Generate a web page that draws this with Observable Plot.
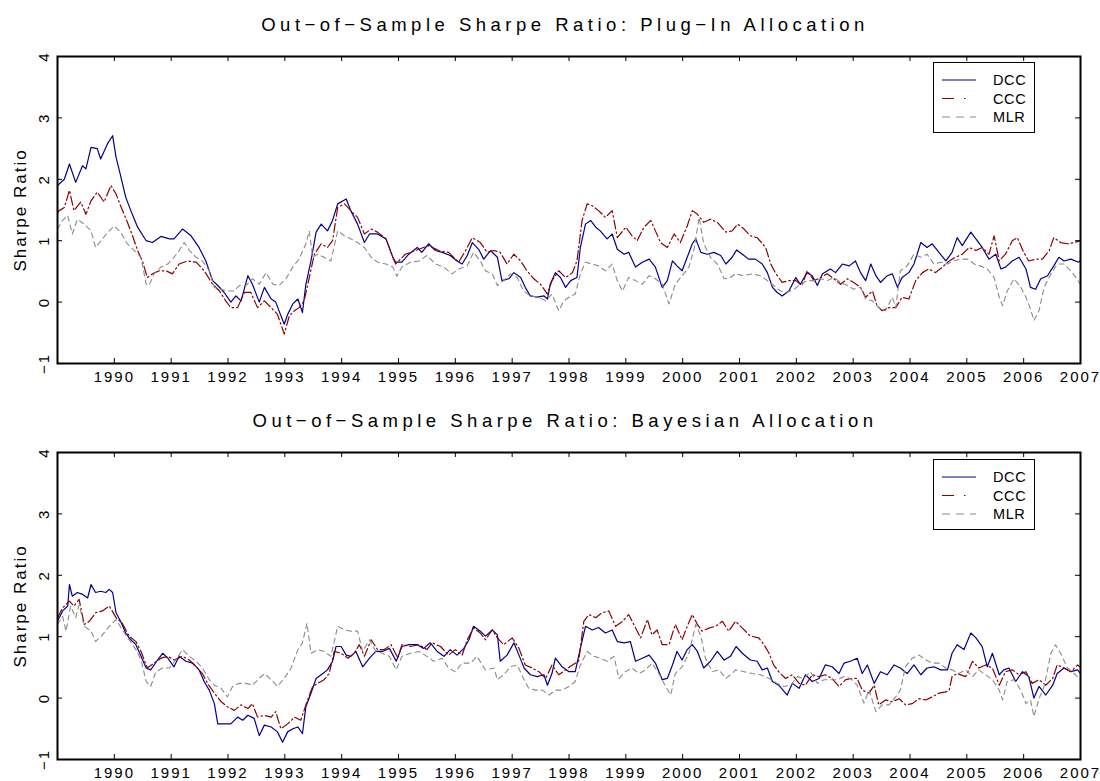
<!DOCTYPE html>
<html>
<head>
<meta charset="utf-8">
<script src="https://cdn.jsdelivr.net/npm/d3@7"></script>
<script src="https://cdn.jsdelivr.net/npm/@observablehq/plot@0.6"></script>
<style>
  body { margin: 0; background: #fff; }
  #root { position: relative; width: 1100px; height: 781px; font-family: "Liberation Sans", Arial, sans-serif; color: #000; overflow: hidden; }
  .title { position: absolute; left: 0; width: 1130px; text-align: center; font-size: 18.5px; line-height: 20px; letter-spacing: 4.5px; white-space: nowrap; }
  .panel { position: absolute; left: 0; }
  .panel svg text { letter-spacing: 2px; }
  .legend { position: absolute; }
</style>
</head>
<body>
<div id="root">
  <div class="title" id="t1" style="top:15px"></div>
  <div class="panel" id="p1" style="top:40px"></div>
  <div class="title" id="t2" style="top:411px"></div>
  <div class="panel" id="p2" style="top:436px"></div>
</div>
<script>
// ---------- text ----------
const titles = ["Out\u2212of\u2212Sample Sharpe Ratio: Plug\u2212In Allocation",
                "Out\u2212of\u2212Sample Sharpe Ratio: Bayesian Allocation"];
const yLabel = "Sharpe Ratio";
const seriesNames = ["DCC", "CCC", "MLR"];
const yearTicks = [1990,1991,1992,1993,1994,1995,1996,1997,1998,1999,2000,2001,2002,2003,2004,2005,2006,2007];
const yTicks = [-1, 0, 1, 2, 3, 4];

// ---------- data: [decimal year, Sharpe ratio] ----------
const plugDCC = [
[1989.00,1.90],[1989.12,2.00],[1989.21,2.25],[1989.32,1.95],[1989.44,2.22],[1989.50,2.17],[1989.59,2.52],[1989.70,2.50],[1989.76,2.33],[1989.88,2.58],[1989.97,2.71],[1990.03,2.36],[1990.11,2.06],[1990.20,1.71],[1990.29,1.49],[1990.41,1.22],[1990.56,1.00],[1990.67,0.97],[1990.82,1.07],[1990.97,1.03],[1991.05,1.03],[1991.20,1.19],[1991.35,1.08],[1991.49,0.89],[1991.61,0.67],[1991.73,0.35],[1991.82,0.27],[1991.93,0.16],[1992.05,0.00],[1992.14,0.10],[1992.23,0.02],[1992.35,0.43],[1992.43,0.29],[1992.55,0.00],[1992.64,0.24],[1992.76,0.05],[1992.84,0.00],[1992.93,-0.22],[1992.99,-0.36],[1993.05,-0.20],[1993.14,-0.03],[1993.23,0.05],[1993.31,-0.17],[1993.37,0.29],[1993.46,0.67],[1993.55,1.14],[1993.64,1.27],[1993.75,1.16],[1993.84,1.33],[1993.93,1.60],[1994.08,1.68],[1994.16,1.49],[1994.28,1.27],[1994.40,0.97],[1994.49,1.11],[1994.63,1.11],[1994.78,1.03],[1994.90,0.73],[1994.95,0.65],
[1995.06,0.65],[1995.18,0.78],[1995.33,0.89],[1995.41,0.81],[1995.53,0.95],[1995.65,0.84],[1995.77,0.81],[1995.91,0.76],[1996.03,0.67],[1996.12,0.62],[1996.21,0.76],[1996.30,0.97],[1996.41,0.86],[1996.50,0.70],[1996.62,0.84],[1996.74,0.73],[1996.82,0.35],[1996.94,0.38],[1997.03,0.48],[1997.15,0.40],[1997.23,0.24],[1997.32,0.10],[1997.44,0.08],[1997.56,0.10],[1997.62,0.05],[1997.67,0.29],[1997.76,0.48],[1997.85,0.40],[1997.94,0.24],[1998.03,0.35],[1998.14,0.40],[1998.20,0.89],[1998.29,1.27],[1998.38,1.33],[1998.47,1.22],[1998.55,1.16],[1998.67,1.03],[1998.76,1.11],[1998.85,0.86],[1998.97,0.78],[1999.05,0.81],[1999.17,0.57],[1999.29,0.65],[1999.41,0.70],[1999.52,0.57],[1999.64,0.24],[1999.73,0.35],[1999.82,0.67],[1999.90,0.59],[1999.99,0.51],[2000.08,0.73],[2000.17,0.95],[2000.23,1.03],[2000.32,0.81],[2000.43,0.78],[2000.55,0.81],[2000.67,0.76],[2000.76,0.62],[2000.87,0.73],[2000.95,0.85],
[2001.05,0.78],[2001.16,0.70],[2001.28,0.70],[2001.40,0.62],[2001.49,0.48],[2001.58,0.24],[2001.66,0.16],[2001.75,0.10],[2001.87,0.18],[2001.99,0.40],[2002.07,0.29],[2002.19,0.48],[2002.28,0.43],[2002.37,0.27],[2002.46,0.46],[2002.60,0.54],[2002.69,0.48],[2002.81,0.62],[2002.93,0.59],[2003.04,0.67],[2003.13,0.48],[2003.22,0.35],[2003.31,0.62],[2003.40,0.43],[2003.48,0.32],[2003.60,0.43],[2003.69,0.46],[2003.78,0.24],[2003.86,0.40],[2003.98,0.48],[2004.07,0.62],[2004.19,0.97],[2004.30,0.89],[2004.39,0.95],[2004.51,0.81],[2004.63,0.67],[2004.74,0.81],[2004.83,1.05],[2004.92,0.92],[2005.07,1.14],[2005.16,1.03],[2005.27,0.89],[2005.39,0.70],[2005.51,0.78],[2005.60,0.54],[2005.68,0.57],[2005.80,0.67],[2005.92,0.73],[2006.04,0.54],[2006.12,0.24],[2006.21,0.21],[2006.30,0.38],[2006.42,0.43],[2006.53,0.59],[2006.62,0.73],[2006.71,0.67],[2006.83,0.70],[2006.97,0.65],[2007.00,0.68]
];
const plugCCC = [
[1989.00,1.45],[1989.03,1.49],[1989.12,1.54],[1989.21,1.82],[1989.29,1.49],[1989.41,1.63],[1989.50,1.43],[1989.59,1.65],[1989.70,1.79],[1989.82,1.63],[1989.94,1.90],[1990.03,1.76],[1990.11,1.57],[1990.23,1.30],[1990.32,1.08],[1990.41,0.84],[1990.50,0.65],[1990.58,0.40],[1990.67,0.46],[1990.79,0.51],[1990.91,0.51],[1991.02,0.46],[1991.14,0.62],[1991.29,0.67],[1991.44,0.65],[1991.58,0.51],[1991.73,0.29],[1991.85,0.18],[1991.96,0.02],[1992.05,-0.09],[1992.17,-0.09],[1992.29,0.16],[1992.40,0.16],[1992.52,-0.09],[1992.64,0.02],[1992.76,-0.09],[1992.87,-0.20],[1992.99,-0.52],[1993.08,-0.22],[1993.17,-0.14],[1993.25,-0.09],[1993.34,0.02],[1993.43,0.40],[1993.52,0.78],[1993.64,0.95],[1993.75,0.89],[1993.84,1.00],[1993.93,1.54],[1994.05,1.60],[1994.16,1.49],[1994.28,1.38],[1994.40,1.11],[1994.52,1.19],[1994.63,1.14],[1994.78,1.03],[1994.90,0.73],[1994.95,0.62],
[1995.12,0.78],[1995.30,0.84],[1995.53,0.92],[1995.71,0.84],[1995.88,0.81],[1996.06,0.65],[1996.18,0.84],[1996.30,1.05],[1996.44,0.97],[1996.56,0.81],[1996.68,0.84],[1996.79,0.81],[1996.91,0.62],[1997.03,0.78],[1997.15,0.67],[1997.26,0.51],[1997.38,0.38],[1997.50,0.29],[1997.62,0.13],[1997.70,0.35],[1997.82,0.51],[1997.94,0.40],[1998.06,0.48],[1998.14,0.67],[1998.23,1.33],[1998.32,1.60],[1998.41,1.57],[1998.52,1.49],[1998.64,1.38],[1998.76,1.49],[1998.85,1.05],[1999.00,1.22],[1999.11,1.08],[1999.20,1.00],[1999.32,1.22],[1999.44,1.33],[1999.52,1.16],[1999.61,0.97],[1999.73,0.89],[1999.85,1.11],[1999.96,0.97],[2000.08,1.24],[2000.17,1.49],[2000.26,1.43],[2000.37,1.30],[2000.49,1.35],[2000.61,1.30],[2000.76,1.14],[2000.87,1.16],[2000.97,1.27],
[2001.08,1.19],[2001.19,1.08],[2001.31,1.05],[2001.46,0.89],[2001.55,0.62],[2001.63,0.48],[2001.75,0.32],[2001.87,0.35],[2001.99,0.35],[2002.10,0.27],[2002.19,0.51],[2002.31,0.35],[2002.43,0.40],[2002.54,0.46],[2002.66,0.38],[2002.78,0.29],[2002.90,0.38],[2003.01,0.32],[2003.13,0.24],[2003.22,0.08],[2003.34,0.18],[2003.42,-0.06],[2003.51,-0.14],[2003.63,-0.09],[2003.75,-0.09],[2003.86,0.08],[2003.98,0.05],[2004.10,0.35],[2004.22,0.48],[2004.33,0.54],[2004.45,0.48],[2004.57,0.57],[2004.69,0.67],[2004.80,0.73],[2004.92,0.78],[2005.04,0.89],[2005.16,0.84],[2005.27,0.89],[2005.39,0.78],[2005.48,1.08],[2005.57,0.67],[2005.68,0.78],[2005.80,1.00],[2005.89,1.05],[2006.00,0.81],[2006.09,0.67],[2006.21,0.70],[2006.33,0.70],[2006.45,0.84],[2006.53,1.05],[2006.65,0.97],[2006.77,0.95],[2006.89,0.97],[2007.00,1.00]
];
const plugMLR = [
[1989.00,1.19],[1989.09,1.33],[1989.18,1.41],[1989.26,1.11],[1989.35,1.35],[1989.47,1.27],[1989.59,1.16],[1989.67,0.89],[1989.79,1.03],[1989.91,1.16],[1990.00,1.24],[1990.11,1.14],[1990.23,0.95],[1990.35,0.84],[1990.47,0.73],[1990.56,0.29],[1990.61,0.27],[1990.70,0.46],[1990.82,0.57],[1990.94,0.62],[1991.05,0.73],[1991.14,0.84],[1991.23,0.97],[1991.32,0.84],[1991.44,0.73],[1991.55,0.67],[1991.67,0.51],[1991.76,0.24],[1991.88,0.21],[1991.99,0.18],[1992.11,0.18],[1992.20,0.27],[1992.32,0.27],[1992.43,0.38],[1992.55,0.29],[1992.67,0.48],[1992.79,0.29],[1992.90,0.27],[1993.02,0.38],[1993.14,0.57],[1993.25,0.70],[1993.37,0.95],[1993.43,1.16],[1993.49,0.73],[1993.58,0.78],[1993.69,0.73],[1993.81,0.67],[1993.93,1.16],[1994.05,1.08],[1994.16,1.03],[1994.28,0.97],[1994.40,0.89],[1994.52,0.73],[1994.63,0.65],[1994.78,0.62],[1994.90,0.57],[1994.97,0.42],
[1995.06,0.57],[1995.21,0.65],[1995.36,0.67],[1995.50,0.76],[1995.65,0.62],[1995.80,0.57],[1995.94,0.46],[1996.06,0.54],[1996.21,0.59],[1996.32,0.81],[1996.44,0.67],[1996.53,0.51],[1996.65,0.46],[1996.74,0.27],[1996.85,0.35],[1996.97,0.46],[1997.09,0.40],[1997.20,0.18],[1997.32,0.10],[1997.47,0.08],[1997.59,0.02],[1997.70,0.13],[1997.82,-0.14],[1997.91,0.02],[1998.00,0.08],[1998.11,0.13],[1998.20,0.46],[1998.29,0.65],[1998.41,0.62],[1998.52,0.59],[1998.64,0.51],[1998.76,0.62],[1998.85,0.35],[1998.94,0.18],[1999.05,0.40],[1999.17,0.35],[1999.29,0.29],[1999.41,0.43],[1999.52,0.38],[1999.64,0.29],[1999.76,-0.03],[1999.87,0.29],[1999.99,0.43],[2000.11,0.57],[2000.20,0.86],[2000.29,1.38],[2000.37,0.95],[2000.49,0.73],[2000.61,0.62],[2000.73,0.38],[2000.84,0.40],
[2000.93,0.46],[2001.08,0.43],[2001.22,0.46],[2001.37,0.43],[2001.49,0.35],[2001.60,0.27],[2001.72,0.18],[2001.84,0.16],[2001.96,0.21],[2002.07,0.29],[2002.19,0.35],[2002.31,0.35],[2002.43,0.38],[2002.54,0.35],[2002.66,0.40],[2002.78,0.32],[2002.90,0.27],[2003.01,0.21],[2003.13,0.24],[2003.22,0.05],[2003.34,0.02],[2003.45,-0.09],[2003.57,-0.14],[2003.69,0.08],[2003.75,-0.09],[2003.83,0.51],[2003.95,0.59],[2004.07,0.78],[2004.19,0.73],[2004.30,0.78],[2004.42,0.62],[2004.54,0.65],[2004.66,0.62],[2004.77,0.67],[2004.89,0.70],[2005.01,0.70],[2005.13,0.62],[2005.24,0.59],[2005.36,0.54],[2005.48,0.40],[2005.57,0.08],[2005.63,-0.06],[2005.71,0.18],[2005.83,0.38],[2005.95,0.24],[2006.04,0.08],[2006.12,-0.11],[2006.18,-0.30],[2006.27,-0.14],[2006.36,0.24],[2006.48,0.46],[2006.59,0.62],[2006.71,0.62],[2006.83,0.51],[2006.92,0.40],[2007.00,0.29]
];

const bayesDCC = [
[1989.00,1.25],[1989.09,1.42],[1989.18,1.50],[1989.21,1.85],[1989.26,1.66],[1989.35,1.72],[1989.44,1.69],[1989.53,1.63],[1989.59,1.85],[1989.67,1.72],[1989.76,1.74],[1989.85,1.72],[1989.91,1.77],[1989.97,1.72],[1990.03,1.39],[1990.11,1.25],[1990.20,1.06],[1990.29,0.95],[1990.38,0.87],[1990.47,0.68],[1990.56,0.49],[1990.64,0.46],[1990.76,0.62],[1990.85,0.73],[1990.94,0.65],[1991.05,0.51],[1991.14,0.68],[1991.26,0.60],[1991.38,0.57],[1991.49,0.46],[1991.58,0.27],[1991.67,0.13],[1991.76,-0.09],[1991.82,-0.42],[1991.93,-0.42],[1992.05,-0.42],[1992.17,-0.31],[1992.26,-0.36],[1992.35,-0.28],[1992.46,-0.33],[1992.55,-0.61],[1992.64,-0.44],[1992.76,-0.47],[1992.87,-0.55],[1992.96,-0.72],[1993.05,-0.55],[1993.14,-0.50],[1993.23,-0.47],[1993.31,-0.58],[1993.37,-0.14],[1993.46,0.08],[1993.55,0.32],[1993.67,0.40],[1993.75,0.46],[1993.84,0.60],[1993.90,0.84],[1993.99,0.84],[1994.08,0.70],[1994.16,0.68],[1994.25,0.76],[1994.37,0.51],[1994.49,0.65],[1994.60,0.76],[1994.72,0.76],[1994.84,0.81],[1994.96,0.60],
[1995.06,0.84],[1995.18,0.87],[1995.33,0.87],[1995.44,0.81],[1995.56,0.90],[1995.68,0.76],[1995.80,0.68],[1995.91,0.79],[1996.03,0.70],[1996.15,0.81],[1996.24,0.95],[1996.32,1.17],[1996.44,1.09],[1996.53,1.01],[1996.65,1.11],[1996.74,1.03],[1996.79,0.60],[1996.91,0.70],[1997.03,0.90],[1997.12,0.70],[1997.21,0.49],[1997.32,0.38],[1997.44,0.35],[1997.56,0.38],[1997.62,0.21],[1997.70,0.40],[1997.76,0.65],[1997.88,0.51],[1998.00,0.43],[1998.11,0.43],[1998.20,0.81],[1998.29,1.17],[1998.41,1.11],[1998.52,1.15],[1998.64,1.06],[1998.76,1.11],[1998.85,0.92],[1998.97,0.90],[1999.08,0.92],[1999.17,0.60],[1999.29,0.65],[1999.41,0.70],[1999.52,0.57],[1999.64,0.30],[1999.73,0.32],[1999.82,0.54],[1999.90,0.76],[1999.99,0.62],[2000.08,0.79],[2000.17,0.87],[2000.26,0.76],[2000.37,0.49],[2000.49,0.60],[2000.61,0.76],[2000.73,0.62],[2000.84,0.68],[2000.94,0.84],
[2001.05,0.73],[2001.19,0.62],[2001.31,0.60],[2001.40,0.46],[2001.49,0.49],[2001.58,0.27],[2001.69,0.21],[2001.84,0.05],[2001.93,0.24],[2002.05,0.16],[2002.16,0.38],[2002.28,0.27],[2002.40,0.32],[2002.51,0.54],[2002.63,0.51],[2002.75,0.40],[2002.84,0.57],[2002.95,0.60],[2003.07,0.65],[2003.16,0.40],[2003.25,0.54],[2003.37,0.24],[2003.48,0.43],[2003.60,0.38],[2003.72,0.54],[2003.83,0.49],[2003.95,0.40],[2004.07,0.54],[2004.19,0.38],[2004.30,0.49],[2004.42,0.51],[2004.54,0.46],[2004.66,0.46],[2004.74,0.73],[2004.83,0.87],[2004.95,0.79],[2005.07,1.06],[2005.16,0.98],[2005.27,0.84],[2005.36,0.51],[2005.45,0.73],[2005.57,0.38],[2005.65,0.46],[2005.74,0.49],[2005.86,0.27],[2005.98,0.43],[2006.09,0.35],[2006.18,0.00],[2006.27,0.19],[2006.39,0.05],[2006.51,0.21],[2006.59,0.40],[2006.71,0.49],[2006.83,0.43],[2006.95,0.46],[2007.00,0.40]
];
const bayesCCC = [
[1989.00,1.31],[1989.09,1.47],[1989.21,1.58],[1989.29,1.50],[1989.38,1.61],[1989.47,1.20],[1989.56,1.25],[1989.67,1.39],[1989.79,1.42],[1989.91,1.50],[1990.03,1.31],[1990.14,1.22],[1990.26,1.01],[1990.38,0.92],[1990.47,0.76],[1990.58,0.49],[1990.70,0.57],[1990.82,0.65],[1990.94,0.68],[1991.05,0.62],[1991.20,0.68],[1991.32,0.62],[1991.44,0.51],[1991.55,0.40],[1991.64,0.24],[1991.76,0.08],[1991.88,-0.06],[1991.99,-0.14],[1992.11,-0.20],[1992.23,-0.11],[1992.35,-0.17],[1992.43,-0.09],[1992.52,-0.31],[1992.64,-0.28],[1992.76,-0.31],[1992.84,-0.22],[1992.93,-0.50],[1993.05,-0.42],[1993.17,-0.31],[1993.28,-0.36],[1993.40,-0.03],[1993.49,0.19],[1993.58,0.24],[1993.69,0.30],[1993.78,0.40],[1993.87,0.76],[1993.99,0.73],[1994.11,0.65],[1994.22,0.73],[1994.31,0.87],[1994.40,0.68],[1994.52,0.95],[1994.63,0.79],[1994.75,0.79],[1994.87,0.87],[1994.99,0.65],
[1995.06,0.87],[1995.21,0.84],[1995.36,0.87],[1995.50,0.79],[1995.59,0.90],[1995.74,0.84],[1995.88,0.70],[1996.00,0.79],[1996.12,0.70],[1996.21,0.95],[1996.32,1.14],[1996.44,1.06],[1996.53,0.95],[1996.65,1.11],[1996.74,0.98],[1996.85,0.87],[1997.00,0.98],[1997.12,0.81],[1997.23,0.54],[1997.35,0.49],[1997.47,0.43],[1997.59,0.32],[1997.70,0.54],[1997.82,0.38],[1997.94,0.46],[1998.06,0.54],[1998.17,0.60],[1998.26,1.25],[1998.35,1.36],[1998.47,1.31],[1998.58,1.39],[1998.70,1.42],[1998.82,1.17],[1998.94,1.25],[1999.05,1.36],[1999.14,1.20],[1999.26,0.98],[1999.38,1.28],[1999.46,1.03],[1999.55,1.11],[1999.64,0.87],[1999.76,0.87],[1999.87,1.20],[1999.99,0.95],[2000.08,1.17],[2000.17,1.36],[2000.26,1.20],[2000.34,1.09],[2000.46,1.14],[2000.58,1.17],[2000.70,1.25],[2000.81,1.09],[2000.93,1.25],
[2001.05,1.14],[2001.19,1.01],[2001.34,0.98],[2001.43,0.87],[2001.52,0.73],[2001.60,0.54],[2001.69,0.43],[2001.81,0.32],[2001.93,0.38],[2002.05,0.24],[2002.16,0.21],[2002.28,0.38],[2002.40,0.35],[2002.51,0.38],[2002.63,0.32],[2002.75,0.19],[2002.87,0.30],[2002.98,0.32],[2003.07,0.32],[2003.16,0.13],[2003.28,0.08],[2003.37,0.21],[2003.45,-0.11],[2003.57,-0.03],[2003.69,-0.06],[2003.81,-0.01],[2003.92,-0.11],[2004.04,-0.09],[2004.16,-0.01],[2004.28,-0.03],[2004.39,0.02],[2004.51,0.08],[2004.63,0.10],[2004.69,0.13],[2004.74,0.35],[2004.83,0.40],[2004.98,0.35],[2005.10,0.60],[2005.21,0.49],[2005.33,0.54],[2005.45,0.49],[2005.57,0.21],[2005.68,0.43],[2005.80,0.46],[2005.92,0.38],[2006.04,0.43],[2006.15,0.24],[2006.27,0.30],[2006.39,0.21],[2006.51,0.32],[2006.59,0.54],[2006.71,0.49],[2006.83,0.43],[2006.95,0.54],[2007.00,0.50]
];
const bayesMLR = [
[1989.00,1.20],[1989.09,1.33],[1989.15,1.09],[1989.23,1.50],[1989.32,1.31],[1989.38,1.52],[1989.47,1.17],[1989.59,1.09],[1989.67,0.92],[1989.79,1.03],[1989.91,1.17],[1990.03,1.28],[1990.14,1.11],[1990.26,0.95],[1990.38,0.79],[1990.47,0.62],[1990.56,0.27],[1990.64,0.19],[1990.73,0.43],[1990.85,0.49],[1990.97,0.49],[1991.08,0.62],[1991.20,0.79],[1991.32,0.68],[1991.44,0.60],[1991.55,0.49],[1991.67,0.30],[1991.76,0.21],[1991.88,0.16],[1991.99,0.02],[1992.08,0.19],[1992.20,0.24],[1992.32,0.24],[1992.43,0.21],[1992.55,0.32],[1992.64,0.40],[1992.76,0.30],[1992.87,0.19],[1992.99,0.32],[1993.11,0.49],[1993.23,0.79],[1993.31,0.90],[1993.39,1.22],[1993.46,0.73],[1993.58,0.79],[1993.69,0.76],[1993.81,0.68],[1993.93,1.17],[1994.05,1.11],[1994.16,1.09],[1994.28,1.09],[1994.37,0.76],[1994.49,0.95],[1994.60,0.76],[1994.72,0.73],[1994.84,0.68],[1994.96,0.46],
[1995.06,0.68],[1995.21,0.73],[1995.36,0.76],[1995.50,0.68],[1995.62,0.60],[1995.77,0.65],[1995.88,0.49],[1996.00,0.43],[1996.12,0.57],[1996.27,0.57],[1996.38,0.68],[1996.53,0.46],[1996.68,0.49],[1996.74,0.30],[1996.85,0.38],[1996.97,0.51],[1997.09,0.54],[1997.20,0.32],[1997.29,0.16],[1997.41,0.13],[1997.53,0.13],[1997.65,0.05],[1997.76,0.13],[1997.88,0.13],[1998.00,0.19],[1998.11,0.27],[1998.20,0.54],[1998.32,0.76],[1998.44,0.68],[1998.55,0.65],[1998.67,0.60],[1998.79,0.68],[1998.88,0.32],[1998.99,0.43],[1999.11,0.49],[1999.23,0.40],[1999.35,0.46],[1999.46,0.57],[1999.58,0.40],[1999.70,0.19],[1999.79,0.05],[1999.87,0.40],[1999.99,0.51],[2000.11,0.73],[2000.23,1.20],[2000.32,1.01],[2000.40,0.65],[2000.52,0.43],[2000.64,0.46],[2000.76,0.32],[2000.87,0.40],
[2000.93,0.46],[2001.08,0.43],[2001.22,0.40],[2001.37,0.38],[2001.52,0.32],[2001.66,0.24],[2001.78,0.19],[2001.90,0.21],[2002.02,0.35],[2002.13,0.32],[2002.25,0.43],[2002.37,0.24],[2002.49,0.30],[2002.60,0.30],[2002.72,0.30],[2002.84,0.35],[2002.95,0.32],[2003.07,0.21],[2003.19,-0.08],[2003.28,0.13],[2003.40,-0.22],[2003.51,-0.11],[2003.63,-0.11],[2003.75,0.02],[2003.83,0.13],[2003.92,0.51],[2004.04,0.65],[2004.16,0.70],[2004.28,0.62],[2004.39,0.57],[2004.51,0.57],[2004.63,0.49],[2004.74,0.46],[2004.86,0.40],[2004.98,0.46],[2005.10,0.35],[2005.21,0.46],[2005.33,0.38],[2005.45,0.30],[2005.57,0.13],[2005.63,-0.03],[2005.71,0.27],[2005.83,0.30],[2005.95,0.13],[2006.04,-0.09],[2006.12,-0.03],[2006.18,-0.30],[2006.27,-0.01],[2006.36,0.19],[2006.48,0.73],[2006.56,0.87],[2006.65,0.73],[2006.77,0.49],[2006.89,0.40],[2007.00,0.30]
];

// ---------- styles ----------
const lineStyles = [
  {stroke: "#00008b", strokeWidth: 1.2, strokeDasharray: null},
  {stroke: "#8b0000", strokeWidth: 1.2, strokeDasharray: "9,3,1.5,3"},
  {stroke: "#8a8a8a", strokeWidth: 1.1, strokeDasharray: "5,4"}
];
const fontFamily = "'Liberation Sans', Arial, sans-serif";

function makePanel(series, opts) {
  const W = 1100, mL = 57, mR = 20;
  const fh = opts.height - opts.marginTop - opts.marginBottom;
  const fw = W - mL - mR;
  const marks = [];
  series.forEach((data, i) => {
    const s = lineStyles[i];
    marks.push(Plot.line(data, {
      x: d => d[0], y: d => d[1], stroke: s.stroke, strokeWidth: s.strokeWidth,
      strokeDasharray: s.strokeDasharray, clip: true
    }));
  });
  // inward ticks on all four sides
  marks.push(Plot.tickX(yearTicks, {x: d => d, stroke: "black", strokeWidth: 1, insetTop: fh - 5}));
  marks.push(Plot.tickX(yearTicks, {x: d => d, stroke: "black", strokeWidth: 1, insetBottom: fh - 5}));
  marks.push(Plot.tickY(yTicks, {y: d => d, stroke: "black", strokeWidth: 1, insetRight: fw - 5}));
  marks.push(Plot.tickY(yTicks, {y: d => d, stroke: "black", strokeWidth: 1, insetLeft: fw - 5}));
  marks.push(Plot.frame({stroke: "black", strokeWidth: 2}));
  // x tick labels
  marks.push(Plot.axisX(yearTicks, {tickSize: 0, tickPadding: 8, tickFormat: d => String(d), fontSize: 15}));
  // y tick labels, rotated
  marks.push(Plot.text(yTicks, {
    y: d => d, text: d => (d < 0 ? "\u2212" + Math.abs(d) : String(d)),
    frameAnchor: "left", dx: -13, rotate: -90, fontSize: 15, textAnchor: "middle"
  }));
  // y axis label
  marks.push(Plot.text([yLabel], {text: d => d, frameAnchor: "left", dx: -37, rotate: -90, fontSize: 17, textAnchor: "middle"}));

  return Plot.plot({
    width: W, height: opts.height,
    marginLeft: mL, marginRight: mR, marginTop: opts.marginTop, marginBottom: opts.marginBottom,
    x: {type: "linear", domain: [1989, 2007]},
    y: {type: "linear", domain: [-1, 4], axis: null},
    style: {fontFamily: fontFamily, background: "white", color: "black", overflow: "visible"},
    marks
  });
}

function makeLegend(container, left, top) {
  const w = 101, h = 70;
  const div = document.createElement("div");
  div.className = "legend";
  div.style.left = left + "px";
  div.style.top = top + "px";
  const svg = d3.select(div).append("svg").attr("width", w + 2).attr("height", h + 2)
    .style("overflow", "visible");
  svg.append("rect").attr("x", 0.5).attr("y", 0.5).attr("width", w).attr("height", h)
    .attr("fill", "white").attr("stroke", "black").attr("stroke-width", 1);
  const rows = [18, 36.5, 55];
  seriesNames.forEach((name, i) => {
    const s = lineStyles[i];
    svg.append("line").attr("x1", 9).attr("x2", 43).attr("y1", rows[i]).attr("y2", rows[i])
      .attr("stroke", s.stroke).attr("stroke-width", 1.2)
      .attr("stroke-dasharray", i === 1 ? "12,10,1.5,20" : (i === 2 ? "8,6" : null));
    svg.append("text").attr("x", 60).attr("y", rows[i]).attr("dy", "0.36em")
      .attr("font-size", 14.5).attr("font-family", fontFamily).attr("letter-spacing", "0.6px")
      .attr("fill", "black").text(name);
  });
  container.appendChild(div);
}

document.getElementById("t1").textContent = titles[0];
document.getElementById("t2").textContent = titles[1];
document.getElementById("p1").appendChild(
  makePanel([plugDCC, plugCCC, plugMLR], {height: 350, marginTop: 16, marginBottom: 27}));
document.getElementById("p2").appendChild(
  makePanel([bayesDCC, bayesCCC, bayesMLR], {height: 345, marginTop: 16, marginBottom: 22}));
const root = document.getElementById("root");
makeLegend(root, 933, 62);
makeLegend(root, 933, 459);
</script>
</body>
</html>
